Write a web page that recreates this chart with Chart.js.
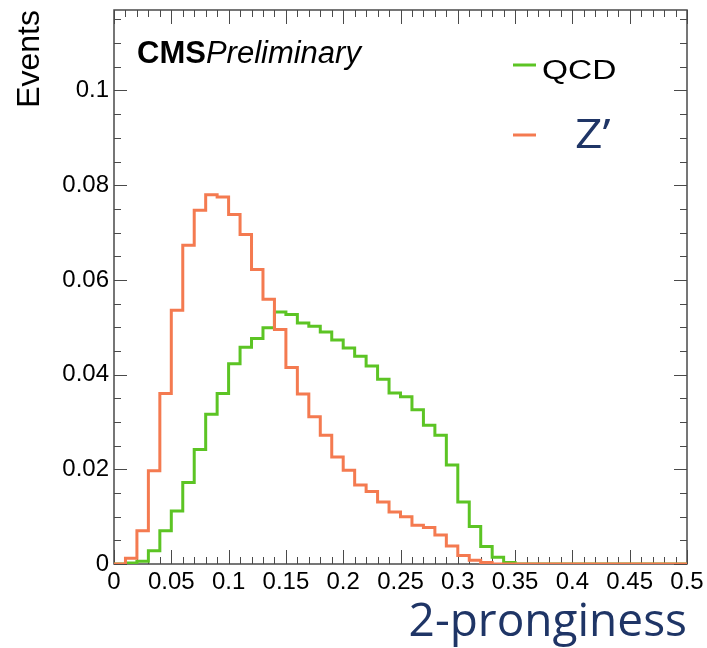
<!DOCTYPE html>
<html>
<head>
<meta charset="utf-8">
<script src="https://cdn.jsdelivr.net/npm/chart.js@4.4.0/dist/chart.umd.min.js"></script>
<style>
  html, body { margin: 0; padding: 0; background: #fff; }
  #wrap { position: relative; width: 707px; height: 648px; }
</style>
</head>
<body>
<div id="wrap"><canvas id="canvas1" width="707" height="648"></canvas></div>
<script>
// bin edges of the 2-pronginess histogram (width 0.01)
var binEdges = [0, 0.01, 0.02, 0.03, 0.04, 0.05, 0.06, 0.07, 0.08, 0.09,
                0.10, 0.11, 0.12, 0.13, 0.14, 0.15, 0.16, 0.17, 0.18, 0.19,
                0.20, 0.21, 0.22, 0.23, 0.24, 0.25, 0.26, 0.27, 0.28, 0.29,
                0.30, 0.31, 0.32, 0.33, 0.34, 0.35, 0.36, 0.37, 0.38, 0.39,
                0.40, 0.41, 0.42, 0.43, 0.44, 0.45, 0.46, 0.47, 0.48, 0.49, 0.50];

var qcd = [0, 0.0002, 0.0006, 0.0028, 0.0070, 0.0112, 0.0172, 0.0242, 0.0316, 0.0360,
           0.0423, 0.0458, 0.0476, 0.0499, 0.0532, 0.0527, 0.0509, 0.0502, 0.0490, 0.0473,
           0.0456, 0.0439, 0.0418, 0.0390, 0.0361, 0.0353, 0.0326, 0.0293, 0.0272, 0.0209,
           0.0131, 0.0079, 0.0037, 0.0014, 0.0003, 0, 0, 0, 0, 0,
           0, 0, 0, 0, 0, 0, 0, 0, 0, 0];

var zprime = [0, 0.0012, 0.0070, 0.0197, 0.0360, 0.0536, 0.0673, 0.0747, 0.0780, 0.0775,
              0.0738, 0.0696, 0.0622, 0.0559, 0.0495, 0.0415, 0.0359, 0.0311, 0.0272, 0.0226,
              0.0198, 0.0167, 0.0153, 0.0131, 0.0110, 0.0100, 0.0082, 0.0077, 0.0061, 0.0038,
              0.0018, 0.0008, 0.0003, 0, 0, 0, 0, 0, 0, 0,
              0, 0, 0, 0, 0, 0, 0, 0, 0, 0];

var seriesNames = ['QCD', 'Z\u2019'];
var xTickLabels = ['0', '0.05', '0.1', '0.15', '0.2', '0.25', '0.3', '0.35', '0.4', '0.45', '0.5'];
var yTickLabels = ['0', '0.02', '0.04', '0.06', '0.08', '0.1'];

var green = '#5cc424';
var orange = '#f47a50';
var navy = '#1f3566';
var frameColor = '#4a4a4a';

function histPoints(vals) {
    var pts = [];
    for (var i = 0; i < vals.length; i++) {
        pts.push({x: binEdges[i], y: vals[i]});
    }
    pts.push({x: binEdges[vals.length], y: vals[vals.length - 1]});
    return pts;
}

function onStep(v, step) {
    var r = v / step;
    return Math.abs(r - Math.round(r)) < 1e-6;
}

function labelFor(v, list) {
    for (var i = 0; i < list.length; i++) {
        if (Math.abs(parseFloat(list[i]) - v) < 1e-6) return list[i];
    }
    return '';
}

// text stretched sideways to match the picture
function wideText(ctx, txt, x, y, sx) {
    ctx.save();
    ctx.translate(x, y);
    ctx.scale(sx, 1);
    ctx.fillText(txt, 0, 0);
    ctx.restore();
}

// ROOT style frame with inward ticks on all four sides
var frameTicks = {
    id: 'frameTicks',
    beforeDatasetsDraw: function(chart) {
        var ctx = chart.ctx, a = chart.chartArea;
        var xs = chart.scales.x, ys = chart.scales.y;
        ctx.save();
        ctx.strokeStyle = frameColor;
        ctx.lineWidth = 1;
        xs.ticks.forEach(function(t) {
            if (!onStep(t.value, 0.01)) return;
            var px = Math.round(xs.getPixelForValue(t.value)) + 0.5;
            var len = onStep(t.value, 0.05) ? 14 : 7;
            ctx.beginPath();
            ctx.moveTo(px, a.bottom); ctx.lineTo(px, a.bottom - len);
            ctx.moveTo(px, a.top); ctx.lineTo(px, a.top + len);
            ctx.stroke();
        });
        ys.ticks.forEach(function(t) {
            if (!onStep(t.value, 0.005)) return;
            var py = Math.round(ys.getPixelForValue(t.value)) + 0.5;
            var len = onStep(t.value, 0.02) ? 13 : 7;
            ctx.beginPath();
            ctx.moveTo(a.left, py); ctx.lineTo(a.left + len, py);
            ctx.moveTo(a.right, py); ctx.lineTo(a.right - len, py);
            ctx.stroke();
        });
        ctx.lineWidth = 1.5;
        ctx.strokeRect(a.left, a.top, a.right - a.left, a.bottom - a.top);
        ctx.restore();
    },
    afterDraw: function(chart) {
        var ctx = chart.ctx;
        ctx.save();
        // CMS Preliminary
        ctx.fillStyle = '#000';
        ctx.textBaseline = 'alphabetic';
        ctx.textAlign = 'left';
        ctx.font = 'bold 31px "Liberation Sans"';
        ctx.fillText('CMS', 137, 63);
        var w = ctx.measureText('CMS').width;
        ctx.font = 'italic 31px "Liberation Sans"';
        ctx.fillText('Preliminary', 137 + w, 63);

        // legend
        ctx.lineWidth = 3;
        ctx.strokeStyle = green;
        ctx.beginPath(); ctx.moveTo(513, 65); ctx.lineTo(536, 65); ctx.stroke();
        ctx.strokeStyle = orange;
        ctx.beginPath(); ctx.moveTo(513, 135); ctx.lineTo(536, 135); ctx.stroke();
        ctx.fillStyle = '#000';
        ctx.font = '27px "Liberation Sans"';
        wideText(ctx, seriesNames[0], 542, 79, 1.24);
        ctx.fillStyle = navy;
        ctx.font = '40px "Open Sans"';
        wideText(ctx, seriesNames[1], 575, 148, 1.2);
        ctx.restore();
    }
};

var ctx = document.getElementById('canvas1');
var chart = new Chart(ctx, {
    type: 'line',
    data: {
        datasets: [
            {
                label: seriesNames[1],
                data: histPoints(zprime),
                borderColor: orange,
                borderWidth: 3,
                stepped: 'before',
                pointRadius: 0,
                fill: false
            },
            {
                label: seriesNames[0],
                data: histPoints(qcd),
                borderColor: green,
                borderWidth: 3,
                stepped: 'before',
                pointRadius: 0,
                fill: false
            }
        ]
    },
    options: {
        responsive: false,
        animation: false,
        layout: { padding: { left: 0, right: 20, top: 10, bottom: 0 } },
        plugins: {
            legend: { display: false },
            tooltip: { enabled: false }
        },
        scales: {
            x: {
                type: 'linear',
                min: 0,
                max: 0.5,
                grid: { display: false, drawTicks: false },
                border: { display: false },
                ticks: {
                    stepSize: 0.01,
                    maxTicksLimit: 200,
                    autoSkip: false,
                    maxRotation: 0,
                    includeBounds: false,
                    padding: 4,
                    color: '#000',
                    font: { family: 'Liberation Sans', size: 24 },
                    callback: function(v) { return labelFor(v, xTickLabels); }
                },
                title: {
                    display: true,
                    text: '2-pronginess',
                    align: 'end',
                    color: navy,
                    font: { family: 'Open Sans', size: 46 },
                    padding: { top: 0, bottom: -2 }
                },
                afterFit: function(s) {
                    s.height = 84;
                    s.paddingLeft = 0;
                    s.paddingRight = 0;
                }
            },
            y: {
                min: 0,
                max: 0.117,
                grid: { display: false, drawTicks: false },
                border: { display: false },
                ticks: {
                    stepSize: 0.005,
                    maxTicksLimit: 200,
                    autoSkip: false,
                    includeBounds: false,
                    padding: 5,
                    color: '#000',
                    font: { family: 'Liberation Sans', size: 24 },
                    callback: function(v) { return labelFor(v, yTickLabels); }
                },
                title: {
                    display: true,
                    text: 'Events',
                    align: 'end',
                    color: '#000',
                    font: { family: 'Liberation Sans', size: 32 },
                    padding: { top: 11, bottom: 0 }
                },
                afterFit: function(s) {
                    s.width = 114;
                    s.paddingTop = 0;
                    s.paddingBottom = 0;
                }
            }
        }
    },
    plugins: [frameTicks]
});
</script>
</body>
</html>
